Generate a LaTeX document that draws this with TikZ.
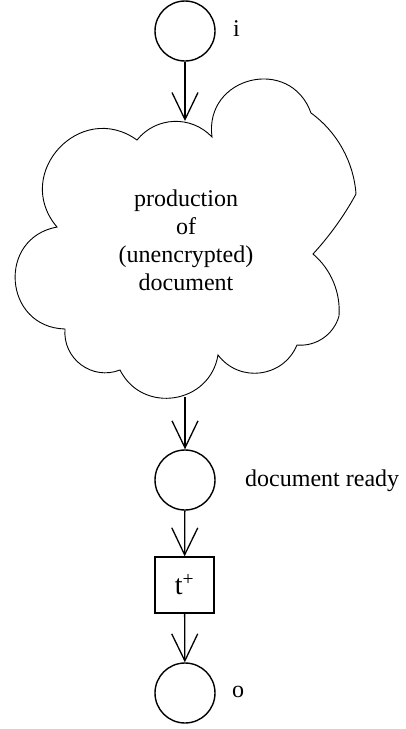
\documentclass[tikz,border=0pt]{standalone}
\usepackage{fontspec}
\setmainfont{Liberation Serif}
\usetikzlibrary{arrows.meta}
\begin{document}
\begin{tikzpicture}[x=1pt,y=-1pt,
  place/.style={circle,draw,line width=1.4pt,minimum size=60pt,inner sep=0pt},
  trans/.style={rectangle,draw,line width=1.4pt,minimum width=59pt,minimum height=56pt,inner sep=0pt,font=\fontsize{28}{30}\selectfont},
  lbl/.style={inner sep=0pt,font=\fontsize{24}{28}\selectfont},
  flow/.style={line width=1.3pt,-{Straight Barb[length=27pt,width=26pt]}},
  cloudline/.style={line width=0.9pt,line join=miter}
]
\useasboundingbox (0,0) rectangle (406,729);
% cloud
\draw[cloudline] (137,140) to[bend left=49,looseness=1.03] (212,137)
 to[bend left=84,looseness=1.54] (311,113)
 to[bend left=25,looseness=0.89] (356,194)
 to[bend left=7,looseness=0.85] (313,254)
 to[bend left=27,looseness=0.9] (339,316)
 to[bend left=40,looseness=0.96] (297,345)
 to[bend left=60,looseness=1.14] (218,355)
 to[bend left=72,looseness=1.29] (120,370)
 to[bend left=58,looseness=1.12] (65,329)
 to[bend left=84,looseness=1.54] (57,227)
 to[bend left=83,looseness=1.51] cycle;
\coordinate (ctop) at (185,121);
\coordinate (cbot) at (185,397);
\node[lbl,align=center] (ctext) at (186,240) {production\\of\\(unencrypted)\\document};
% places and transition
\node[place] (pi) at (185,31) {};
\node[place] (pready) at (185,480) {};
\node[trans] (t) at (184.5,585) {t\textsuperscript{+}};
\node[place] (po) at (185,693) {};
% labels
\node[lbl,anchor=west] (li) at (233,29) {i};
\node[lbl,anchor=west] (lready) at (245,481) {document ready};
\node[lbl,anchor=west] (lo) at (232,692) {o};
% connectors
\draw[flow] (pi) -- (ctop);
\draw[flow] (cbot) -- (pready);
\draw[flow] (pready) -- (t);
\draw[flow] (t) -- (po);
\end{tikzpicture}
\end{document}
